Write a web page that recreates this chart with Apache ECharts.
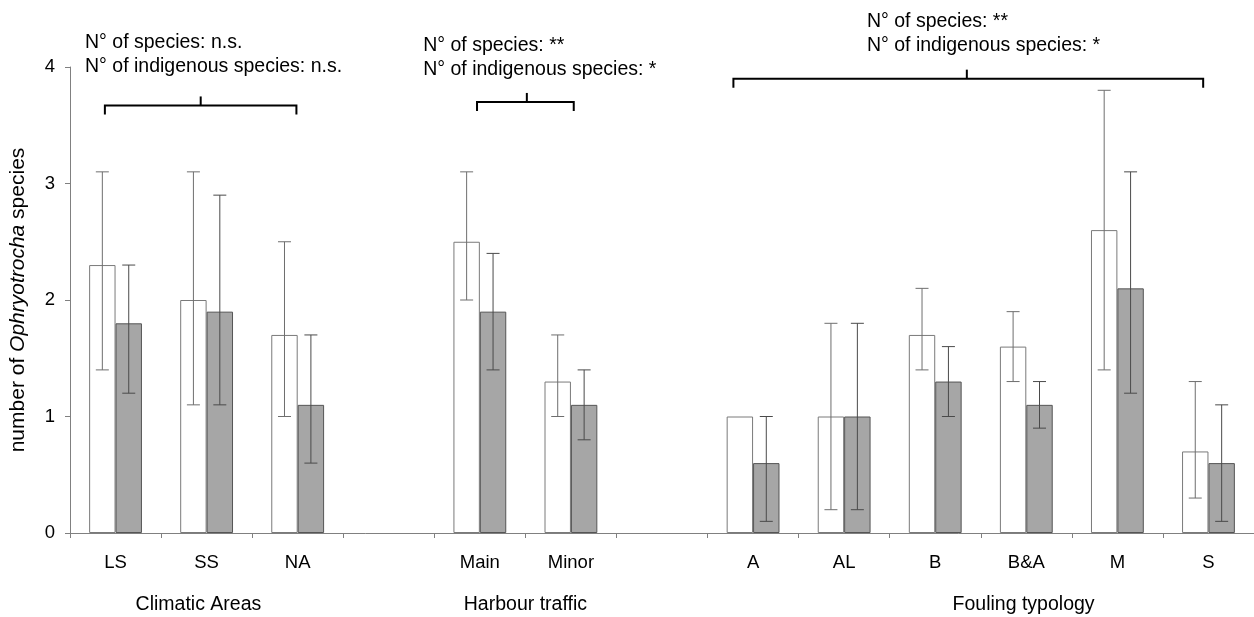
<!DOCTYPE html>
<html><head><meta charset="utf-8">
<script src="https://cdn.jsdelivr.net/npm/echarts@6/dist/echarts.min.js"></script>
<style>html,body{margin:0;padding:0;background:#fff}#c{width:1254px;height:617px}</style>
</head><body><div id="c"></div>
<script>
// ---- data ----
const categories = ['LS','SS','NA','','Main','Minor','','A','AL','B','B&A','M','S'];
const allSpecies    = [2.3, 2.0, 1.7, null, 2.5, 1.3, null, 1.0, 1.0, 1.7, 1.6, 2.6, 0.7];
const allLow        = [1.4, 1.1, 1.0, null, 2.0, 1.0, null, null, 0.2, 1.4, 1.3, 1.4, 0.3];
const allHigh       = [3.1, 3.1, 2.5, null, 3.1, 1.7, null, null, 1.8, 2.1, 1.9, 3.8, 1.3];
const indigenous    = [1.8, 1.9, 1.1, null, 1.9, 1.1, null, 0.6, 1.0, 1.3, 1.1, 2.1, 0.6];
const indLow        = [1.2, 1.1, 0.6, null, 1.4, 0.8, null, 0.1, 0.2, 1.0, 0.9, 1.2, 0.1];
const indHigh       = [2.3, 2.9, 1.7, null, 2.4, 1.4, null, 1.0, 1.8, 1.6, 1.3, 3.1, 1.1];
const yTicks = [0, 1, 2, 3, 4];
const groupNames = ['Climatic Areas', 'Harbour traffic', 'Fouling typology'];
const groupLabelPos = [1.41, 5.0, 10.47];           // in category-band units from left edge
const statLine1 = ['N\u00b0 of species: n.s.', 'N\u00b0 of species: **', 'N\u00b0 of species: **'];
const statLine2 = ['N\u00b0 of indigenous species: n.s.', 'N\u00b0 of indigenous species: *', 'N\u00b0 of indigenous species: *'];
const statTextX = [0.165, 3.878, 8.75];              // band units, left edge of text
const statTextY = [4.21, 4.18, 4.39];                // value units, first line centre
const bracketStart = [0.383, 4.469, 7.284];
const bracketEnd   = [2.486, 5.531, 12.442];
const bracketMid   = [1.435, 5.016, 9.847];
const bracketLevel = [3.67, 3.70, 3.90];

const FONT = 'Liberation Sans, Arial, Helvetica, sans-serif';
const BAR_FRAC = 0.29;

function errSeries(low, high, sign, color) {
  return {
    type: 'custom',
    z: 5,
    data: categories.map((c, i) => [i, low[i], high[i]]),
    renderItem: function (params, api) {
      const lo = api.value(1), hi = api.value(2);
      if (lo == null || hi == null || isNaN(lo) || isNaN(hi)) return;
      const band = api.size([1, 0])[0];
      const off = sign * band * BAR_FRAC / 2;
      const pLo = api.coord([api.value(0), lo]);
      const pHi = api.coord([api.value(0), hi]);
      const x = pLo[0] + off;
      const cap = 6.5;
      const st = { stroke: color, lineWidth: 1 };
      return { type: 'group', children: [
        { type: 'line', shape: { x1: x, y1: pLo[1], x2: x, y2: pHi[1] }, style: st },
        { type: 'line', shape: { x1: x - cap, y1: pLo[1], x2: x + cap, y2: pLo[1] }, style: st },
        { type: 'line', shape: { x1: x - cap, y1: pHi[1], x2: x + cap, y2: pHi[1] }, style: st }
      ]};
    }
  };
}

const chart = echarts.init(document.getElementById('c'), null, { renderer: 'canvas' });
chart.setOption({
  animation: false,
  backgroundColor: '#fff',
  textStyle: { fontFamily: FONT },
  grid: { left: 69, top: 67, width: 1187, bottom: 84, containLabel: false },
  xAxis: {
    type: 'category', data: categories, boundaryGap: true,
    axisLine: { lineStyle: { color: '#808080', width: 1 } },
    axisTick: { show: true, length: 5, lineStyle: { color: '#808080' } },
    axisLabel: { color: '#000', fontSize: 18.5, margin: 20, fontFamily: FONT, interval: 0 }
  },
  yAxis: {
    type: 'value', min: 0, max: 4, interval: 1,
    name: '{a|number of }{b|Ophryotrocha}{a| species}',
    nameLocation: 'middle', nameRotate: 90, nameGap: 41,
    nameTextStyle: { rich: {
      a: { fontSize: 21, color: '#000', fontFamily: FONT },
      b: { fontSize: 21, color: '#000', fontFamily: FONT, fontStyle: 'italic' }
    }},
    axisLine: { show: true, lineStyle: { color: '#808080' } },
    axisTick: { show: true, length: 5, lineStyle: { color: '#808080' } },
    splitLine: { show: false },
    axisLabel: { color: '#000', fontSize: 18.5, margin: 15, fontFamily: FONT,
      formatter: v => yTicks.indexOf(v) >= 0 ? String(v) : '' }
  },
  series: [
    { type: 'bar', name: 'species', data: allSpecies, barWidth: (BAR_FRAC * 100) + '%', barGap: '0%',
      itemStyle: { color: '#ffffff', borderColor: '#7a7a7a', borderWidth: 1 } },
    { type: 'bar', name: 'indigenous', data: indigenous, barWidth: (BAR_FRAC * 100) + '%', barGap: '0%',
      itemStyle: { color: '#a6a6a6', borderColor: '#555555', borderWidth: 1 } },
    errSeries(allLow, allHigh, -1, '#6e6e6e'),
    errSeries(indLow, indHigh, 1, '#4a4a4a')
  ]
});

// annotations positioned through the axes
const c0 = chart.convertToPixel({ gridIndex: 0 }, [0, 0]);
const c1 = chart.convertToPixel({ gridIndex: 0 }, [1, 0]);
const band = c1[0] - c0[0];
const left = c0[0] - band / 2;
const bx = u => left + u * band;
const by = v => chart.convertToPixel({ gridIndex: 0 }, [0, v])[1];
const yBase = by(0);
const lineGap = by(0) - by(0.205);

const g = [];
for (let k = 0; k < 3; k++) {
  const y = by(bracketLevel[k]);
  const x1 = bx(bracketStart[k]), x2 = bx(bracketEnd[k]), xm = bx(bracketMid[k]);
  g.push({ type: 'polyline', shape: { points: [[x1, y + 9], [x1, y], [x2, y], [x2, y + 9]] },
    style: { stroke: '#000', lineWidth: 2, fill: null } });
  g.push({ type: 'line', shape: { x1: xm, y1: y, x2: xm, y2: y - 9 }, style: { stroke: '#000', lineWidth: 2 } });
  const ty = by(statTextY[k]);
  g.push({ type: 'text', x: bx(statTextX[k]), y: ty, style: { text: statLine1[k], fontSize: 19.5, fontFamily: FONT, fill: '#000', textVerticalAlign: 'middle', verticalAlign: 'middle' } });
  g.push({ type: 'text', x: bx(statTextX[k]), y: ty + lineGap, style: { text: statLine2[k], fontSize: 19.5, fontFamily: FONT, fill: '#000', textVerticalAlign: 'middle', verticalAlign: 'middle' } });
  g.push({ type: 'text', x: bx(groupLabelPos[k]), y: yBase + 72, style: { text: groupNames[k], fontSize: 19.5, fontFamily: FONT, fill: '#000', align: 'center', textAlign: 'center', verticalAlign: 'middle', textVerticalAlign: 'middle' } });
}
chart.setOption({ graphic: g });
</script></body></html>
